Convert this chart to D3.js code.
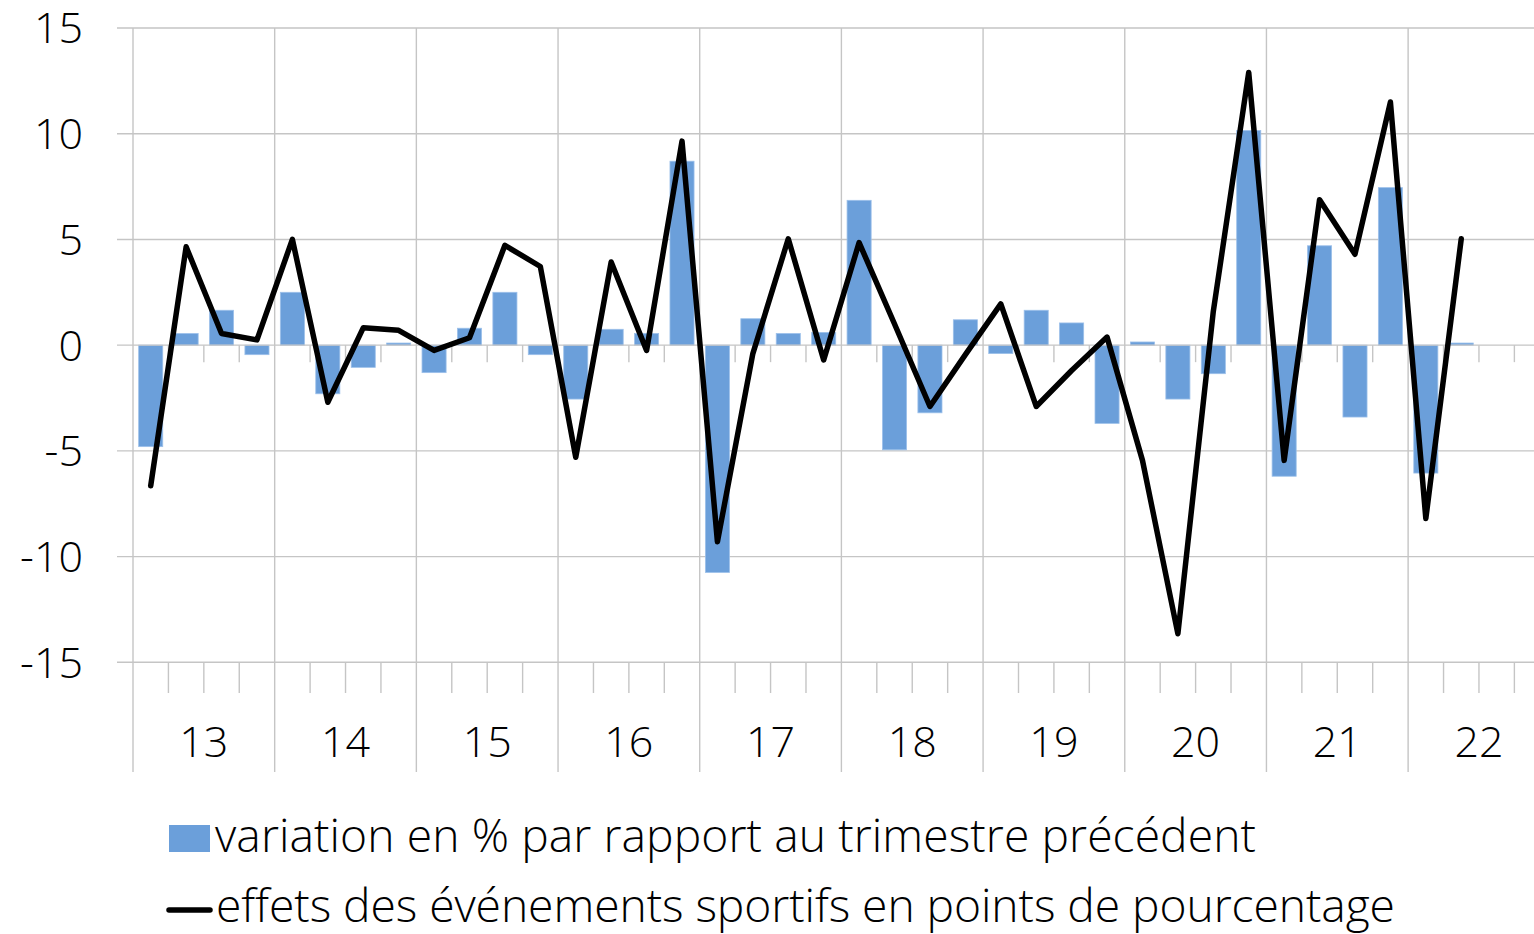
<!DOCTYPE html>
<html>
<head>
<meta charset="utf-8">
<script src="https://cdn.jsdelivr.net/npm/d3@7"></script>
<style>
  html, body { margin: 0; padding: 0; background: #fff; overflow: hidden; }
  svg { display: block; }
  text { font-family: "Open Sans", "Noto Sans", sans-serif; fill: #000; }
</style>
</head>
<body>
<svg id="chart" width="1534" height="934"></svg>
<script>
// ---- data ----
const years = ["13","14","15","16","17","18","19","20","21","22"];
const quarters = years.flatMap(y => ["T1","T2","T3","T4"].map(q => y + q));
// variation en % par rapport au trimestre précédent (bars)
const variation = [
  -4.8, 0.55, 1.65, -0.45,
  2.5, -2.3, -1.05, 0.1,
  -1.3, 0.8, 2.5, -0.45,
  -2.55, 0.75, 0.55, 8.7,
  -10.75, 1.25, 0.55, 0.6,
  6.85, -4.95, -3.2, 1.2,
  -0.4, 1.65, 1.05, -3.7,
  0.15, -2.55, -1.35, 10.15,
  -6.2, 4.7, -3.4, 7.45,
  -6.05, 0.1, null, null
];
// effets des événements sportifs en points de pourcentage (line)
const effets = [
  -6.65, 4.65, 0.55, 0.25,
  5.0, -2.7, 0.82, 0.7,
  -0.25, 0.35, 4.72, 3.72,
  -5.3, 3.93, -0.25, 9.65,
  -9.3, -0.4, 5.03, -0.7,
  4.85, 1.0, -2.9, -0.45,
  1.95, -2.9, -1.2, 0.38,
  -5.45, -13.65, 1.6, 12.9,
  -5.45, 6.88, 4.3, 11.5,
  -8.2, 5.03, null, null
];
const yTicks = [-15, -10, -5, 0, 5, 10, 15];
const legendLabels = [
  "variation en % par rapport au trimestre précédent",
  "effets des événements sportifs en points de pourcentage"
];

// ---- layout ----
const svg = d3.select("#chart");
const plotLeft = 133, step = 35.42;
const plotRight = plotLeft + step * quarters.length;
const plotTop = 28, plotBottom = 662.3;
const gridColor = "#c5c5c5";
const barColor = "#6b9fda";

const x = d3.scaleBand().domain(quarters).range([plotLeft, plotRight]).paddingInner(0.32).paddingOuter(0.16);
const xq = d3.scaleBand().domain(quarters).range([plotLeft, plotRight]).padding(0);
const xy = d3.scaleBand().domain(years).range([plotLeft, plotRight]).padding(0);
const y = d3.scaleLinear().domain([-15, 15]).range([plotBottom, plotTop]);

// horizontal gridlines
svg.append("g").selectAll("line").data(yTicks.filter(d => d !== 0)).join("line")
  .attr("x1", 117).attr("x2", plotRight)
  .attr("y1", d => y(d)).attr("y2", d => y(d))
  .attr("stroke", gridColor).attr("stroke-width", 1.4);

// vertical year lines (grid + long ticks)
svg.append("g").selectAll("line").data(years).join("line")
  .attr("x1", d => xy(d)).attr("x2", d => xy(d))
  .attr("y1", plotTop).attr("y2", 772)
  .attr("stroke", gridColor).attr("stroke-width", 1.4);

// bottom minor quarter ticks
const minorQ = quarters.filter((q, i) => i % 4 !== 0);
svg.append("g").selectAll("line").data(minorQ).join("line")
  .attr("x1", d => xq(d)).attr("x2", d => xq(d))
  .attr("y1", plotBottom).attr("y2", 693)
  .attr("stroke", gridColor).attr("stroke-width", 1.4);

// bars
svg.append("g").selectAll("rect").data(quarters.map((q, i) => ({q, v: variation[i]})).filter(d => d.v !== null)).join("rect")
  .attr("x", d => x(d.q))
  .attr("width", x.bandwidth())
  .attr("y", d => Math.min(y(d.v), y(0)))
  .attr("height", d => Math.abs(y(d.v) - y(0)))
  .attr("fill", barColor)
  .attr("stroke", "#9cc0ea").attr("stroke-width", 0.8);

// zero axis line and its ticks
svg.append("line").attr("x1", 117).attr("x2", plotRight).attr("y1", y(0)).attr("y2", y(0))
  .attr("stroke", gridColor).attr("stroke-width", 1.4);
svg.append("g").selectAll("line").data(minorQ).join("line")
  .attr("x1", d => xq(d)).attr("x2", d => xq(d))
  .attr("y1", y(0)).attr("y2", y(0) + 17)
  .attr("stroke", gridColor).attr("stroke-width", 1.4);

// line series
const lineData = quarters.map((q, i) => ({q, v: effets[i]})).filter(d => d.v !== null);
svg.append("path").datum(lineData)
  .attr("d", d3.line().x(d => xq(d.q) + xq.bandwidth() / 2).y(d => y(d.v)))
  .attr("fill", "none").attr("stroke", "#000").attr("stroke-width", 5.5)
  .attr("stroke-linejoin", "round").attr("stroke-linecap", "round");

// y labels
svg.append("g").selectAll("text").data(yTicks).join("text")
  .attr("x", 83).attr("y", d => y(d)).attr("dy", "0.36em")
  .attr("text-anchor", "end").attr("font-size", 43).attr("font-weight", 300)
  .text(d => d);

// x labels (years)
svg.append("g").selectAll("text").data(years).join("text")
  .attr("x", d => xy(d) + xy.bandwidth() / 2).attr("y", 757)
  .attr("text-anchor", "middle").attr("font-size", 43).attr("font-weight", 300)
  .text(d => d);

// legend
const lg = svg.append("g");
lg.append("rect").attr("x", 169).attr("y", 825).attr("width", 41).attr("height", 27).attr("fill", barColor);
lg.append("line").attr("x1", 169).attr("x2", 210).attr("y1", 910).attr("y2", 910)
  .attr("stroke", "#000").attr("stroke-width", 5.5).attr("stroke-linecap", "round");
const t1 = lg.append("text").attr("x", 215).attr("y", 852).attr("font-size", 40).attr("font-weight", 300).text(legendLabels[0]);
const t2 = lg.append("text").attr("x", 216).attr("y", 922).attr("font-size", 40).attr("font-weight", 300).text(legendLabels[1]);
// fit widths to reference
const w1 = 1256 - 215, w2 = 1395 - 216;
const n1 = t1.node().getComputedTextLength(), n2 = t2.node().getComputedTextLength();
const fs = 40 * ((w1 / n1) + (w2 / n2)) / 2;
t1.attr("font-size", fs).attr("textLength", w1).attr("lengthAdjust", "spacing");
t2.attr("font-size", fs).attr("textLength", w2).attr("lengthAdjust", "spacing");
</script>
</body>
</html>
